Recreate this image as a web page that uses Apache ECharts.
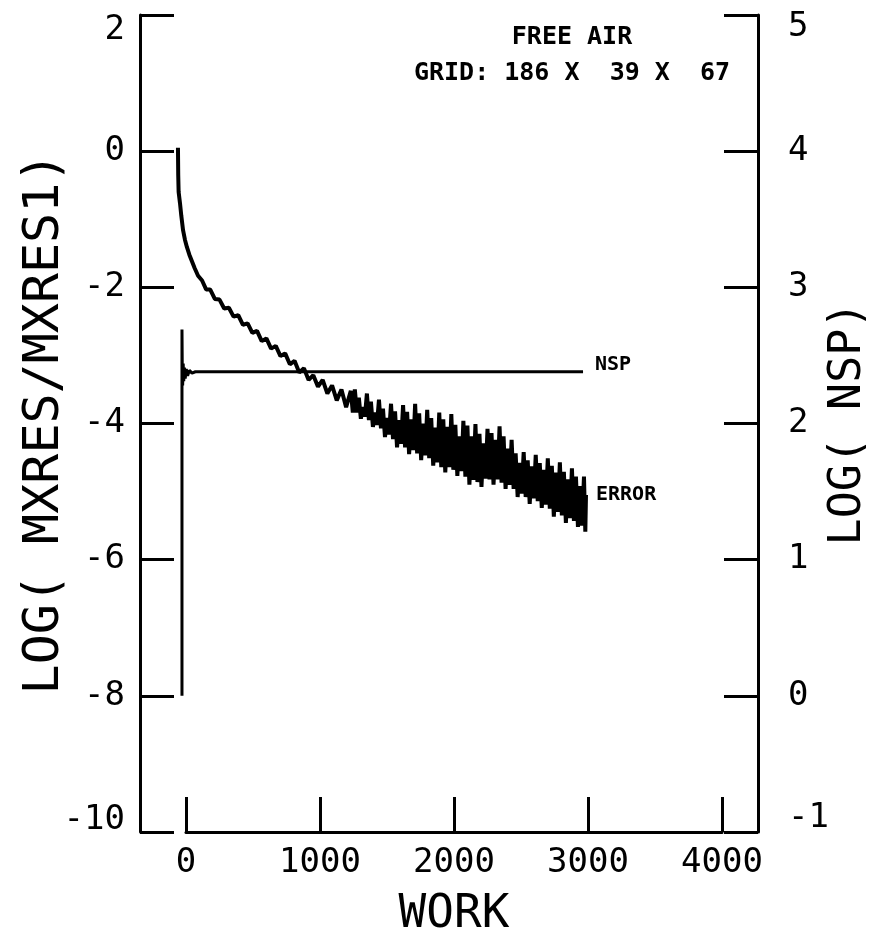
<!DOCTYPE html>
<html><head><meta charset="utf-8">
<script src="https://cdn.jsdelivr.net/npm/echarts@6/dist/echarts.min.js"></script>
<style>html,body{margin:0;padding:0;background:#fff}#c{width:869px;height:933px}</style>
</head><body><div id="c"></div>
<script>
// ---- data ----
const titleLines = ['FREE AIR', 'GRID: 186 X  39 X  67'];
const xName = 'WORK';
const leftName = 'LOG( MXRES/MXRES1)';
const rightName = 'LOG( NSP)';
const xRange = [0, 4000], xStep = 1000;
const leftRange = [-10, 2], leftStep = 2;
const rightRange = [-1, 5], rightStep = 1;

// ERROR series: work vs log(mxres/mxres1)
const errWork = [
  -60,-58,-55,-45,-35,-22,-8,7,25,45,65,90,
  120,150,180,215,250,285,320,355,390,425,460,495,530,565,600,635,670,705,740,775,810,845,880,915,950,985,1020,1055,1090,1125,1160,1195,1230,1245,
  1260,1275,1290,1305,1320,1335,1350,1365,1380,1395,1410,1425,1440,1455,1470,1485,1500,1515,1530,1545,1560,1575,1590,1605,1620,1635,1650,1665,1680,1695,
  1710,1725,1740,1755,1770,1785,1800,1815,1830,1845,1860,1875,1890,1905,1920,1935,1950,1965,1980,1995,2010,2025,2040,2055,2070,2085,2100,2115,2130,2145,
  2160,2175,2190,2205,2220,2235,2250,2265,2280,2295,2310,2325,2340,2355,2370,2385,2400,2415,2430,2445,2460,2475,2490,2505,2520,2535,2550,2565,2580,2595,
  2610,2625,2640,2655,2670,2685,2700,2715,2730,2745,2760,2775,2790,2805,2820,2835,2850,2865,2880,2895,2910,2925,2940,2955,2970,2980,2985
];
const errLog = [
  0.05,-0.35,-0.60,-0.76,-0.95,-1.16,-1.30,-1.41,-1.52,-1.62,-1.72,-1.83,
  -1.90,-2.03,-2.03,-2.17,-2.18,-2.31,-2.30,-2.43,-2.41,-2.55,-2.53,-2.67,-2.64,-2.79,-2.75,-2.90,-2.86,-3.01,-2.97,-3.13,-3.08,-3.25,-3.19,-3.36,-3.29,-3.46,-3.36,-3.56,-3.44,-3.66,-3.50,-3.76,-3.52,-3.84,
  -3.50,-3.84,-3.62,-3.93,-3.76,-3.90,-3.56,-3.95,-3.68,-4.05,-3.84,-4.02,-3.65,-4.07,-3.78,-4.20,-3.92,-4.16,-3.71,-4.23,-3.82,-4.35,-3.95,-4.30,-3.73,-4.35,-3.83,-4.45,-3.94,-4.39,
  -3.71,-4.44,-3.85,-4.54,-4.00,-4.47,-3.80,-4.51,-3.92,-4.62,-4.06,-4.57,-3.84,-4.64,-3.94,-4.72,-4.05,-4.64,-3.86,-4.68,-4.02,-4.77,-4.19,-4.70,-3.96,-4.78,-4.03,-4.90,-4.19,-4.83,
  -4.01,-4.86,-4.15,-4.93,-4.29,-4.81,-4.08,-4.82,-4.14,-4.90,-4.24,-4.82,-4.04,-4.87,-4.19,-4.96,-4.37,-4.90,-4.24,-4.96,-4.44,-5.08,-4.58,-5.03,-4.42,-5.08,-4.54,-5.18,-4.63,-5.10,
  -4.46,-5.14,-4.58,-5.24,-4.68,-5.19,-4.51,-5.25,-4.62,-5.37,-4.72,-5.30,-4.57,-5.35,-4.71,-5.46,-4.82,-5.39,-4.66,-5.43,-4.78,-5.52,-4.92,-5.50,-4.78,-5.59,-5.05
];

// NSP series: work vs log(nsp)
const nspWork = [-30,-30,-28,-25,-21,-17,-12,-6,2,12,25,45,70,2963];
const nspLog  = [0.00,2.69,2.42,2.28,2.44,2.31,2.41,2.33,2.40,2.35,2.39,2.37,2.38,2.38];

// ---- chart ----
const FONT = '"DejaVu Sans Mono", "Liberation Mono", monospace';
const BLACK = '#000';
const zip = (a, b) => a.map((v, i) => [v, b[i]]);

const chart = echarts.init(document.getElementById('c'), null, {renderer: 'canvas'});

// pixel layout of plot frame
const frameL = 140, frameR = 758, plotTop = 15, plotBottom = 832;
const x0px = 186, x4000px = 722;
const pxPerUnit = (x4000px - x0px) / (xRange[1] - xRange[0]);
const hiddenMin = xRange[0] - (x0px - frameL) / pxPerUnit;
const hiddenMax = xRange[1] + (frameR - x4000px) / pxPerUnit;

const lbl = {fontFamily: FONT, fontSize: 34, color: BLACK};

chart.setOption({
  animation: false,
  backgroundColor: '#fff',
  grid: [
    {left: frameL, top: plotTop, width: frameR - frameL, height: plotBottom - plotTop, containLabel: false, outerBoundsMode: 'none'},
    {left: x0px, top: plotTop, width: x4000px - x0px, height: plotBottom - plotTop, containLabel: false, outerBoundsMode: 'none'}
  ],
  xAxis: [
    {gridIndex: 0, type: 'value', min: hiddenMin, max: hiddenMax, show: false},
    {gridIndex: 1, type: 'value', min: xRange[0], max: xRange[1], interval: xStep, position: 'bottom',
     axisLine: {show: true, onZero: false, lineStyle: {color: BLACK, width: 3}},
     axisTick: {show: true, inside: true, length: 35, lineStyle: {color: BLACK, width: 3}},
     axisLabel: Object.assign({margin: 14, formatter: v => String(v)}, lbl),
     splitLine: {show: false},
     name: xName, nameLocation: 'middle', nameGap: 60, nameMoveOverlap: false,
     nameTextStyle: {fontFamily: FONT, fontSize: 46, color: BLACK}}
  ],
  yAxis: [
    {gridIndex: 0, type: 'value', position: 'left', min: leftRange[0], max: leftRange[1], interval: leftStep,
     axisLine: {show: true, onZero: false, lineStyle: {color: BLACK, width: 3}},
     axisTick: {show: true, inside: true, length: 34, lineStyle: {color: BLACK, width: 3}},
     splitLine: {show: false},
     axisLabel: Object.assign({margin: 15,
       formatter: v => v === leftRange[1] ? '{t|' + v + '}' : (v === leftRange[0] ? '{b|' + v + '}' : String(v)),
       rich: {t: Object.assign({padding: [30, 0, 0, 0]}, lbl), b: Object.assign({padding: [0, 0, 24, 0]}, lbl)}
     }, lbl),
     name: leftName, nameLocation: 'middle', nameRotate: 90, nameGap: 70, nameMoveOverlap: false,
     nameTextStyle: {fontFamily: FONT, fontSize: 50, color: BLACK}},
    {gridIndex: 0, type: 'value', position: 'right', min: rightRange[0], max: rightRange[1], interval: rightStep,
     axisLine: {show: true, onZero: false, lineStyle: {color: BLACK, width: 3}},
     axisTick: {show: true, inside: true, length: 34, lineStyle: {color: BLACK, width: 3}},
     splitLine: {show: false},
     axisLabel: Object.assign({margin: 30,
       formatter: v => v === rightRange[1] ? '{t|' + v + '}' : (v === rightRange[0] ? '{b|' + v + '}' : String(v)),
       rich: {t: Object.assign({padding: [24, 0, 0, 0]}, lbl), b: Object.assign({padding: [0, 0, 28, 0]}, lbl)}
     }, lbl),
     name: rightName, nameLocation: 'middle', nameRotate: 90, nameGap: 68, nameMoveOverlap: false,
     nameTextStyle: {fontFamily: FONT, fontSize: 45, color: BLACK}},
    {gridIndex: 1, type: 'value', min: leftRange[0], max: leftRange[1], show: false}
  ],
  graphic: [
    {type: 'text', x: 572, y: 37, style: {text: titleLines[0], align: 'center', verticalAlign: 'middle',
      font: 'bold 25px ' + FONT, fill: BLACK}},
    {type: 'text', x: 572, y: 73, style: {text: titleLines[1], align: 'center', verticalAlign: 'middle',
      font: 'bold 25px ' + FONT, fill: BLACK}}
  ],
  series: [
    {name: 'ERROR', type: 'line', xAxisIndex: 0, yAxisIndex: 0, data: zip(errWork, errLog),
     showSymbol: false, symbol: 'none', smooth: false, clip: false,
     lineStyle: {color: BLACK, width: 4, join: 'bevel'},
     endLabel: {show: true, formatter: 'ERROR', distance: 10, fontFamily: FONT, fontSize: 20, fontWeight: 'bold', color: BLACK}},
    {name: 'NSP', type: 'line', xAxisIndex: 0, yAxisIndex: 1, data: zip(nspWork, nspLog),
     showSymbol: false, symbol: 'none', smooth: false, clip: false,
     lineStyle: {color: BLACK, width: 3, join: 'bevel'},
     endLabel: {show: true, formatter: 'NSP', distance: 12, offset: [0, -7], fontFamily: FONT, fontSize: 20, fontWeight: 'bold', color: BLACK}}
  ]
});
</script>
</body></html>
